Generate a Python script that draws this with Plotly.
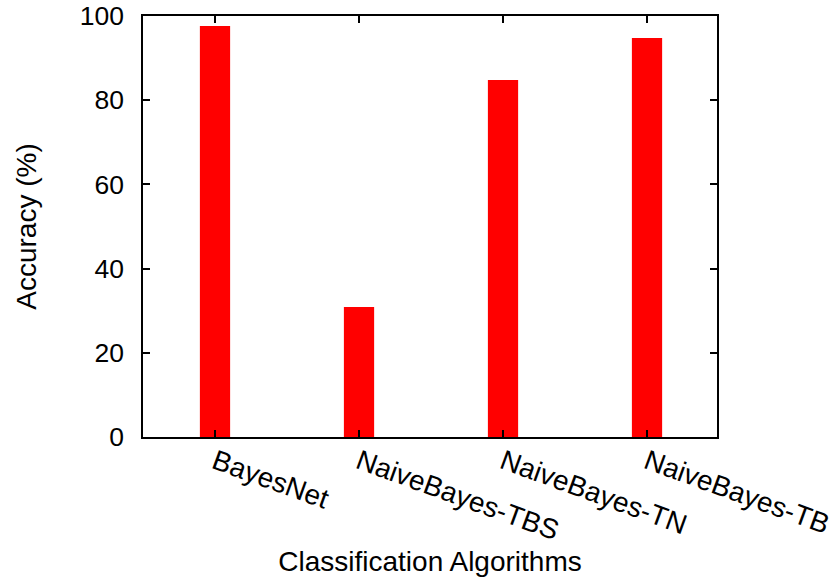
import plotly.graph_objects as go

algorithms = ["BayesNet", "NaiveBayes-TBS", "NaiveBayes-TN", "NaiveBayes-TB"]
accuracy = [97.6, 30.9, 84.8, 94.8]
y_ticks = [0, 20, 40, 60, 80, 100]

FONT = "Liberation Sans, Arial, sans-serif"

fig = go.Figure()
fig.add_trace(go.Bar(
    x=list(range(len(algorithms))),
    y=accuracy,
    width=0.21,
    marker=dict(color="#ff0000", line=dict(width=0)),
))

fig.update_layout(
    width=837, height=580,
    margin=dict(l=143, r=120, t=16, b=143),
    paper_bgcolor="white", plot_bgcolor="white",
    showlegend=False,
    font=dict(family=FONT, size=26, color="black"),
    xaxis=dict(
        range=[-0.5, 3.486],
        tickmode="array",
        tickvals=list(range(len(algorithms))),
        ticktext=algorithms,
        tickangle=20,
        ticks="inside", ticklen=7, tickwidth=1.5, tickcolor="black",
        showline=True, linecolor="black", linewidth=1.5, mirror="ticks",
        showgrid=False, zeroline=False,
        automargin=False,
        ticklabelstandoff=-4,
        tickfont=dict(size=28),
        title=dict(text="Classification Algorithms", standoff=6, font=dict(size=28)),
    ),
    yaxis=dict(
        range=[0, 100],
        tickmode="array",
        tickvals=y_ticks,
        ticks="inside", ticklen=7, tickwidth=1.5, tickcolor="black",
        showline=True, linecolor="black", linewidth=1.5, mirror="ticks",
        showgrid=False, zeroline=False,
        automargin=False,
        ticklabelstandoff=12,
        tickfont=dict(size=26.5),
        title=dict(text="Accuracy (%)", standoff=35, font=dict(size=28)),
    ),
)

fig.write_html("out.html")
